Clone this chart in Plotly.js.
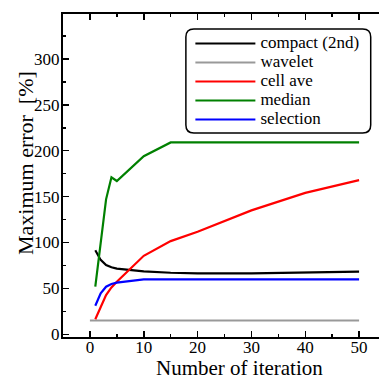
<!DOCTYPE html>
<html>
<head>
<meta charset="utf-8">
<script src="https://cdn.plot.ly/plotly-3.0.1.min.js"></script>
<style>
  html, body { margin: 0; padding: 0; overflow: hidden; background: #fff; }
  #chart { width: 400px; height: 379px; }
</style>
</head>
<body>
<div id="chart"></div>
<script>
// Iteration counts
const iterations = [1, 2, 3, 4, 5, 10, 15, 20, 30, 40, 50];
const waveletIterations = [0, 1, 2, 3, 4, 5, 10, 15, 20, 30, 40, 50];

// Maximum error [%]
const compact2nd = [91.5, 81, 75.5, 73, 71.5, 68.5, 67, 66.4, 66.4, 67, 68.2];
const wavelet = [15, 15, 15, 15, 15, 15, 15, 15, 15, 15, 15, 15];
const cellAve = [16.3, 30, 42.7, 51, 57.3, 85.5, 101.5, 111.7, 135, 154, 168];
const median = [52, 97, 147, 171, 167, 194, 209, 209, 209, 209, 209];
const selection = [31, 44.6, 51.8, 54.7, 56.2, 59.8, 59.8, 59.8, 59.8, 59.8, 59.8];

const seriesNames = ["compact (2nd)", "wavelet", "cell ave", "median", "selection"];
const seriesColors = ["#000000", "#999999", "#ff0000", "#008000", "#0000ff"];

const xTickVals = [0, 10, 20, 30, 40, 50];
const yTickVals = [0, 50, 100, 150, 200, 250, 300];

const xTitle = "Number of iteration";
const yTitle = "Maximum error\u00a0\u00a0[%]";

const FONT = "Liberation Serif";

// plot-area pixel geometry (for placing paper-referenced items)
const PL = 63, PR = 386.3, PT = 14, PB = 337;
const px2x = p => (p - PL) / (PR - PL);
const px2y = p => (PB - p) / (PB - PT);

function legendLabel(s) {
  return '<span style="font-size:17px">' + s + '</span>';
}

const xs = [iterations, waveletIterations, iterations, iterations, iterations];
const ys = [compact2nd, wavelet, cellAve, median, selection];

const traces = ys.map((y, i) => ({
  x: xs[i],
  y: y,
  type: 'scatter',
  mode: 'lines',
  name: legendLabel(seriesNames[i]),
  line: { color: seriesColors[i], width: 2.2 }
}));

// rounded legend frame
const bx0 = 186, bx1 = 371, by0 = 29, by1 = 133, r = 8;
const rx = r / (PR - PL), ry = r / (PB - PT);
const X0 = px2x(bx0), X1 = px2x(bx1), Y0 = px2y(by0), Y1 = px2y(by1);
const boxPath =
  `M${X0 + rx},${Y0} L${X1 - rx},${Y0} Q${X1},${Y0} ${X1},${Y0 - ry} ` +
  `L${X1},${Y1 + ry} Q${X1},${Y1} ${X1 - rx},${Y1} ` +
  `L${X0 + rx},${Y1} Q${X0},${Y1} ${X0},${Y1 + ry} ` +
  `L${X0},${Y0 - ry} Q${X0},${Y0} ${X0 + rx},${Y0} Z`;

const axisCommon = {
  showgrid: false,
  zeroline: false,
  showline: true,
  linecolor: '#000',
  linewidth: 2,
  mirror: 'ticks',
  ticks: 'inside',
  ticklen: 6,
  tickwidth: 1.5,
  tickcolor: '#000'
};

const layout = {
  width: 400,
  height: 379,
  margin: { l: PL, r: 400 - PR, t: PT, b: 379 - PB },
  paper_bgcolor: '#fff',
  plot_bgcolor: '#fff',
  showlegend: true,
  font: { family: FONT, color: '#000' },
  xaxis: Object.assign({}, axisCommon, {
    range: [-5, 55],
    tickvals: xTickVals,
    tickfont: { family: FONT, size: 17, color: '#000' },
    minor: { dtick: 5, tick0: 0, ticks: 'inside', ticklen: 3, tickwidth: 1.5, tickcolor: '#000' },
    ticklabelstandoff: -6
  }),
  yaxis: Object.assign({}, axisCommon, {
    range: [-3, 349],
    tickvals: yTickVals,
    tickfont: { family: FONT, size: 17, color: '#000' },
    minor: { dtick: 25, tick0: 0, ticks: 'inside', ticklen: 3, tickwidth: 1.5, tickcolor: '#000' },
    ticklabelstandoff: -2
  }),
  legend: {
    x: px2x(190.5), y: px2y(29), xanchor: 'left', yanchor: 'top',
    bgcolor: 'rgba(0,0,0,0)',
    borderwidth: 0,
    font: { family: FONT, size: 12, color: '#000' },
    itemwidth: 60
  },
  shapes: [
    { type: 'path', xref: 'paper', yref: 'paper', path: boxPath, layer: 'above',
      fillcolor: '#fff', line: { color: '#000', width: 1.5 } }
  ],
  annotations: [
    { text: xTitle, xref: 'paper', yref: 'paper', x: px2x(240), y: px2y(368.2),
      xanchor: 'center', yanchor: 'middle', showarrow: false, borderpad: 0,
      font: { family: FONT, size: 21, color: '#000' } },
    { text: yTitle, xref: 'paper', yref: 'paper', x: px2x(25), y: px2y(163),
      xanchor: 'center', yanchor: 'middle', showarrow: false, textangle: -90, borderpad: 0,
      font: { family: FONT, size: 22, color: '#000' } }
  ]
};

Plotly.newPlot('chart', traces, layout, { displayModeBar: false, staticPlot: true });
</script>
</body>
</html>
